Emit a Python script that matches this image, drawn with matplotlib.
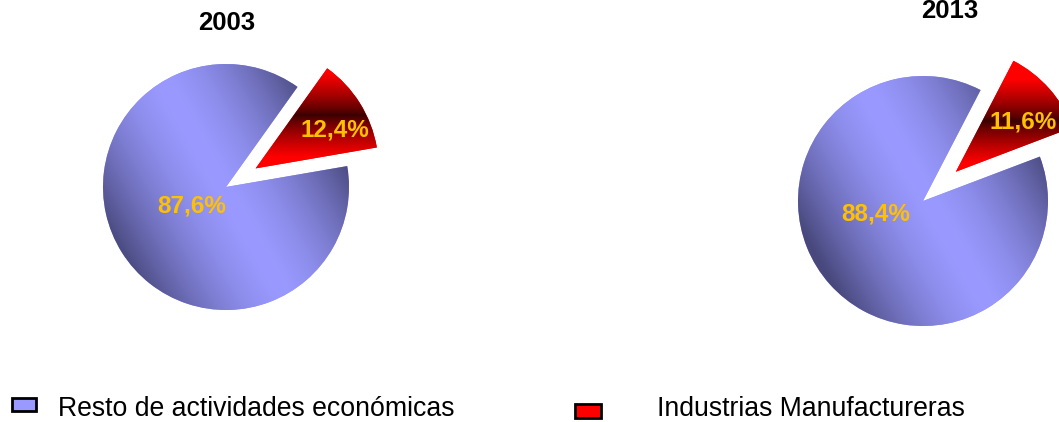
import numpy as np
import matplotlib
matplotlib.use("Agg")
import matplotlib.pyplot as plt
from matplotlib.patches import Rectangle

# ---------------- data ----------------
years = ["2003", "2013"]
categories = ["Industrias Manufactureras", "Resto de actividades económicas"]
manufactura = [12.4, 11.6]
resto = [87.6, 88.4]
legend_labels = ["Resto de actividades económicas", "Industrias Manufactureras"]

# ---------------- layout (pixels) ----------------
W, H = 1059, 422
FONT = "Liberation Sans"
LABEL_COLOR = "#FFC000"

fig = plt.figure(figsize=(W / 100, H / 100), dpi=100)
ax = fig.add_axes([0, 0, 1, 1])

def py(y):
    return H - y

pies = [
    dict(center=(226, 187), r=123, start=9.8, explode=35,
         band_off=(-3, 0), red_yc=115,
         title_xy=(227, 30), lab_red=(335, 137), lab_blue=(192, 213)),
    dict(center=(923, 201), r=125, start=20.8, explode=44,
         band_off=(6, 0), red_yc=121,
         title_xy=(950, 18), lab_red=(1023, 128), lab_blue=(876, 221)),
]

X, Y = np.meshgrid(np.arange(W) + 0.5, np.arange(H) + 0.5)
light = np.array([0x99, 0x99, 0xFF]) / 255
dark = np.array([0x48, 0x48, 0x7C]) / 255
red = np.array([0xFF, 0x00, 0x00]) / 255
dred = np.array([0x38, 0x00, 0x00]) / 255

for i, p in enumerate(pies):
    cx, cy = p["center"]
    vals = [manufactura[i], resto[i]]
    wedges, _ = ax.pie(vals, center=(cx, py(cy)), radius=p["r"],
                       startangle=p["start"], counterclock=True,
                       explode=[p["explode"], 0],
                       colors=["#FF0000", "#9999FF"],
                       wedgeprops=dict(linewidth=0))
    # blue gradient (reflected linear, diagonal)
    bx, by = cx + p["band_off"][0], cy + p["band_off"][1]
    u = np.array([1.0, -0.57]); u /= np.linalg.norm(u)
    t = ((X - bx) * u[0] + (Y - by) * u[1]) / p["r"]
    s = np.clip(np.abs(t) / 1.0, 0, 1) ** 1.6
    img_b = light[None, None, :] * (1 - s[..., None]) + dark[None, None, :] * s[..., None]
    im = ax.imshow(img_b, extent=(0, W, 0, H), origin="upper",
                   interpolation="bilinear", zorder=2)
    im.set_clip_path(wedges[1])
    # red gradient (vertical, dark centre)
    s2 = np.clip(np.abs(Y - p["red_yc"]) / 42, 0, 1) ** 0.8
    img_r = dred[None, None, :] * (1 - s2[..., None]) + red[None, None, :] * s2[..., None]
    im2 = ax.imshow(img_r, extent=(0, W, 0, H), origin="upper",
                    interpolation="bilinear", zorder=2)
    im2.set_clip_path(wedges[0])

    # labels
    ax.text(p["title_xy"][0], py(p["title_xy"][1]), years[i], ha="center",
            va="baseline", fontsize=18.5, fontweight="bold",
            family=FONT, color="black", zorder=5)
    fmt = lambda v: f"{v:.1f}%".replace(".", ",")
    ax.text(p["lab_red"][0], py(p["lab_red"][1]), fmt(manufactura[i]),
            ha="center", va="baseline", fontsize=17.5, fontweight="bold",
            family=FONT, color=LABEL_COLOR, zorder=5)
    ax.text(p["lab_blue"][0], py(p["lab_blue"][1]), fmt(resto[i]),
            ha="center", va="baseline", fontsize=17.5, fontweight="bold",
            family=FONT, color=LABEL_COLOR, zorder=5)

# legend (manual)
ax.add_patch(Rectangle((12, py(411)), 24, 13, facecolor="#9999FF",
                       edgecolor="black", linewidth=2.0, zorder=5))
ax.add_patch(Rectangle((575, py(418)), 26, 14, facecolor="#FF0000",
                       edgecolor="black", linewidth=2.0, zorder=5))
ax.text(58, py(416), legend_labels[0], ha="left", va="baseline",
        fontsize=19.2, family=FONT, color="black", zorder=5)
ax.text(657, py(416), legend_labels[1], ha="left", va="baseline",
        fontsize=19.2, family=FONT, color="black", zorder=5)

ax.set_xlim(0, W)
ax.set_ylim(0, H)
ax.set_aspect("equal")
ax.axis("off")
fig.savefig("out.png", dpi=100)
